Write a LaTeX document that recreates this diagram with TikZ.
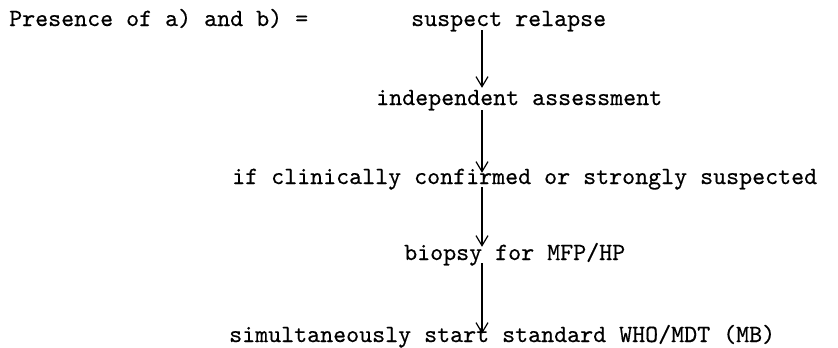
\documentclass[tikz,border=0pt]{standalone}
\usepackage{fontspec}
\setmonofont{lmmono10-regular.otf}[FakeBold=0.4]
\usetikzlibrary{arrows.meta}
\tikzset{
  txt/.style={anchor=base west, inner sep=0pt, text height=15pt, text depth=5pt,
    font=\ttfamily\fontsize{24.76}{28}\selectfont},
  arr/.style={draw, line width=1.2pt, -{Straight Barb[length=10pt,width=12pt,line width=1.2pt]}}
}
\begin{document}
\begin{tikzpicture}[x=1pt,y=-1pt]
\useasboundingbox (0,0) rectangle (838,348);
\node[txt] (pre) at (9,26) {Presence of a) and b) =};
\node[txt] (n1) at (411,26) {suspect relapse};
\node[txt] (n2) at (376,105) {independent assessment};
\node[txt] (n3) at (232,184) {if clinically confirmed or strongly suspected};
\node[txt] (n4) at (404,260) {biopsy for MFP/HP};
\node[txt] (n5) at (229,342) {simultaneously start standard WHO/MDT (MB)};
\coordinate (ax) at (482,0);
\draw[arr, shorten <=-1pt, shorten >=2pt] (n1.south -| ax) -- (n2.north -| ax);
\draw[arr, shorten >=-4pt] (n2.south -| ax) -- (n3.north -| ax);
\draw[arr, shorten <=-2pt, shorten >=-2pt] (n3.south -| ax) -- (n4.north -| ax);
\draw[arr, shorten <=-2pt, shorten >=-7pt] (n4.south -| ax) -- (n5.north -| ax);
\end{tikzpicture}
\end{document}
